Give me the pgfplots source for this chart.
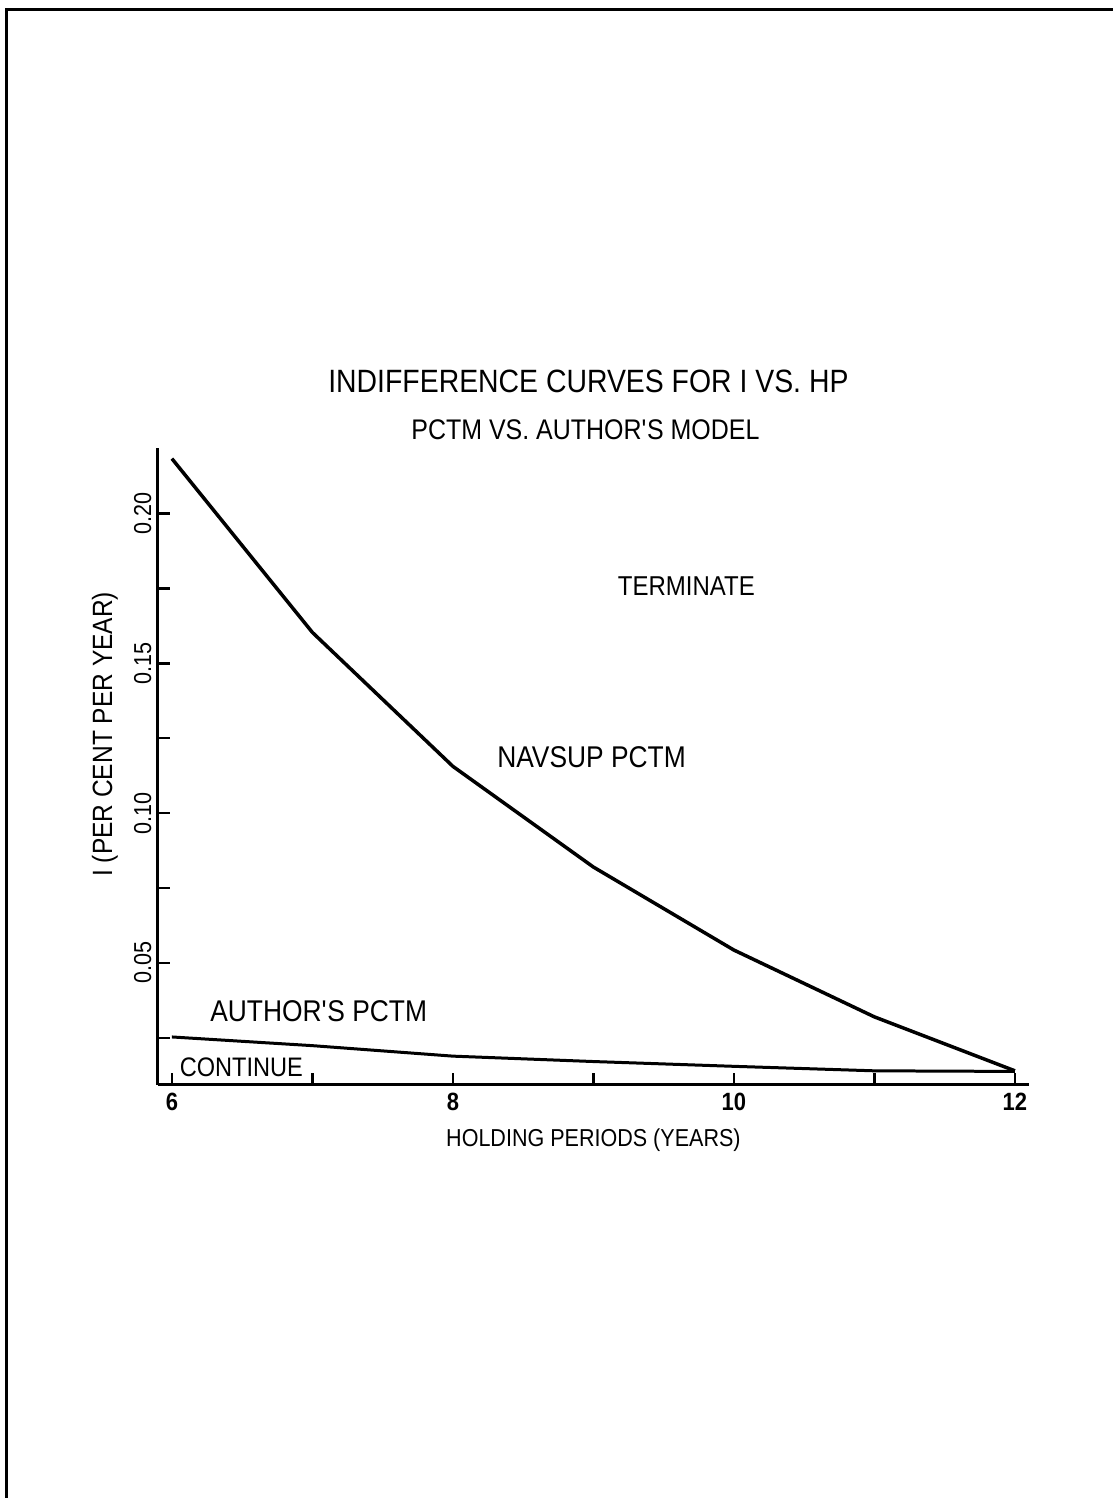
\documentclass[border=0pt]{standalone}
\usepackage{fontspec}
\setmainfont{Liberation Sans}[FakeStretch=0.88]
\usepackage{pgfplots}
\pgfplotsset{compat=1.18}
\newcommand{\fs}[1]{\fontsize{#1}{#1}\selectfont}
\begin{document}
\begin{tikzpicture}
\path (0pt,0pt) rectangle (1114pt,1499pt);
\draw[line width=3pt] (7pt,0pt) -- (7pt,1489pt) -- (1114pt,1489pt);
\node[font=\fs{32.3}] at (589pt,1117pt) {INDIFFERENCE CURVES FOR I VS. HP};
\node[font=\fs{28.4}] at (586pt,1069pt) {PCTM VS. AUTHOR\textquotesingle S MODEL};
\begin{axis}[
  at={(158pt,413pt)}, anchor=south west,
  scale only axis, width=872pt, height=638pt,
  xmin=5.9, xmax=12.1, ymin=0.0093, ymax=0.222,
  axis x line=bottom, axis y line=left,
  axis line style={-, line width=3pt, black},
  tick align=inside, major tick length=12pt,
  tick style={black, line width=2.5pt},
  xtick={6,7,8,9,10,11,12}, xticklabels={6,,8,,10,,12},
  ytick={0.025,0.05,0.075,0.1,0.125,0.15,0.175,0.2},
  yticklabels={,0.05,,0.10,,0.15,,0.20},
  xticklabel style={font=\fs{25}\bfseries, yshift=-5pt},
  yticklabel style={font=\fs{24.5}, xshift=-3pt, rotate=90, anchor=south},
  xlabel={HOLDING PERIODS (YEARS)},
  xlabel style={font=\fs{24.5}, at={(axis description cs:0.5,-0.0862)}, anchor=center},
  ylabel={I (PER CENT PER YEAR)},
  ylabel style={font=\fs{27.9}, at={(axis description cs:-0.0608,0.55)}, anchor=center},
]
\addplot[black, mark=none, line width=3.5pt, line join=round] coordinates {
  (6,0.2183) (7,0.1603) (8,0.1156) (9,0.0820) (10,0.0543) (11,0.0320) (12,0.0140)};
\addplot[black, mark=none, line width=3pt, line join=round] coordinates {
  (6,0.0253) (7,0.0224) (8,0.0189) (9,0.0171) (10,0.0155) (11,0.0140) (12,0.0138)};
\node[font=\fs{27.3}] at (axis cs:9.662,0.1756) {TERMINATE};
\node[font=\fs{30}] at (axis cs:8.987,0.1186) {NAVSUP PCTM};
\node[font=\fs{30}] at (axis cs:7.045,0.034) {AUTHOR\textquotesingle S PCTM};
\node[font=\fs{26.8}] at (axis cs:6.494,0.0153) {CONTINUE};
\end{axis}
\end{tikzpicture}
\end{document}
